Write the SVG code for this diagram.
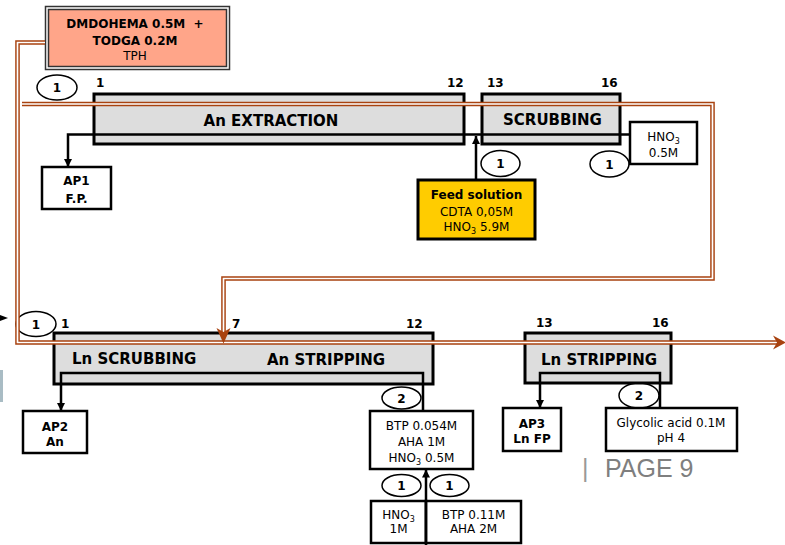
<svg xmlns="http://www.w3.org/2000/svg" xmlns:xlink="http://www.w3.org/1999/xlink" width="785" height="545" viewBox="0 0 785 545">
<style>
.box{fill:#fff;stroke:#000;stroke-width:2.5}
.main{fill:#dddddd;stroke:#000;stroke-width:3}
.t{font-family:"DejaVu Sans",Verdana,sans-serif;font-size:12px;text-anchor:middle;fill:#000}
.b{font-weight:bold}
.ttl{font-family:"DejaVu Sans",Verdana,sans-serif;font-size:15px;font-weight:bold;fill:#000}
.st{font-family:"DejaVu Sans",Verdana,sans-serif;font-size:12px;font-weight:bold;fill:#000}
.ell{fill:none;stroke:#000;stroke-width:1.5}
.brown{fill:none;stroke:#A8420F;stroke-width:4.6}
.brownin{fill:none;stroke:#fff;stroke-width:1.7}
.aq{fill:none;stroke:#000;stroke-width:2.5}
.arr{fill:#A8420F}
</style>
<defs>
<marker id="ah" markerUnits="userSpaceOnUse" markerWidth="8" markerHeight="8" refX="8" refY="4" orient="auto">
<path d="M0,0 L8,4 L0,8 z" fill="#000"/>
</marker>
<path id="orgA" d="M45,42.5 H17.5 V342.5 H778"/>
<path id="orgB" d="M22,104 H712.5 V278.5 H223.5 V333"/>
</defs>

<rect x="0" y="370" width="3" height="32" fill="#a9bcc4"/>
<path d="M0,315 L8,318 L0,321 z" fill="#000"/>

<g id="solvent">
<rect x="45.5" y="6.5" width="184" height="63" fill="#fff" stroke="#333" stroke-width="1.5"/>
<rect x="48.5" y="9.5" width="178" height="57" fill="#FFA589" stroke="#333" stroke-width="1.5"/>
<text class="t b" x="135" y="28" style="white-space:pre">DMDOHEMA 0.5M  +</text>
<text class="t b" x="135" y="45">TODGA 0.2M</text>
<text class="t" x="135" y="60">TPH</text>
</g>

<g id="an-extraction">
<rect class="main" x="94" y="94" width="370" height="50"/>
<text class="ttl" x="271" y="125.5" text-anchor="middle">An EXTRACTION</text>
<text class="st" x="96" y="87">1</text>
<text class="st" x="447" y="87">12</text>
</g>

<g id="scrubbing">
<rect class="main" x="482" y="94" width="138" height="50"/>
<text class="ttl" x="552.5" y="125" text-anchor="middle">SCRUBBING</text>
<text class="st" x="487" y="87">13</text>
<text class="st" x="601" y="87">16</text>
</g>

<g id="ap1">
<rect class="box" x="42" y="167" width="69" height="42" stroke-width="2"/>
<text class="t b" x="76.5" y="185">AP1</text>
<text class="t b" x="76.5" y="202.5">F.P.</text>
</g>

<g id="feed">
<rect x="418" y="180" width="117" height="59" fill="#FFCC00" stroke="#000" stroke-width="3"/>
<text class="t b" x="476.5" y="199">Feed solution</text>
<text class="t" x="476.5" y="215.5">CDTA 0,05M</text>
<text class="t" x="476.5" y="231">HNO<tspan font-size="8" dy="3">3</tspan><tspan dy="-3"> 5.9M</tspan></text>
</g>

<g id="hno3-scrub">
<rect class="box" x="630" y="122" width="67" height="42" stroke-width="2"/>
<text class="t" x="663.5" y="140.5">HNO<tspan font-size="8" dy="3">3</tspan></text>
<text class="t" x="663.5" y="157">0.5M</text>
</g>

<g id="ln-scrub-an-strip">
<rect class="main" x="54" y="333" width="379" height="51"/>
<text class="ttl" x="72" y="364">Ln SCRUBBING</text>
<text class="ttl" x="267" y="365">An STRIPPING</text>
<text class="st" x="61" y="327.5">1</text>
<text class="st" x="232" y="327.5">7</text>
<text class="st" x="406" y="327.5">12</text>
</g>

<g id="ln-stripping">
<rect class="main" x="525" y="333" width="146" height="50"/>
<text class="ttl" x="599" y="365" text-anchor="middle">Ln STRIPPING</text>
<text class="st" x="536" y="327">13</text>
<text class="st" x="652" y="327">16</text>
</g>

<g id="ap2">
<rect class="box" x="23" y="411" width="64" height="42" stroke-width="2"/>
<text class="t b" x="55" y="430.5">AP2</text>
<text class="t b" x="55" y="445.5">An</text>
</g>

<g id="ap3">
<rect class="box" x="503" y="408" width="58" height="43" stroke-width="2"/>
<text class="t b" x="532" y="427.5">AP3</text>
<text class="t b" x="532" y="442.5">Ln FP</text>
</g>

<g id="glycolic">
<rect class="box" x="606" y="408" width="131" height="43" stroke-width="2"/>
<text class="t" x="671" y="427">Glycolic acid 0.1M</text>
<text class="t" x="671" y="442">pH 4</text>
</g>

<g id="btp-strip">
<rect class="box" x="370" y="411" width="103" height="58"/>
<text class="t" x="421.5" y="430">BTP 0.054M</text>
<text class="t" x="421.5" y="446">AHA 1M</text>
<text class="t" x="421.5" y="461.5">HNO<tspan font-size="8" dy="3">3</tspan><tspan dy="-3"> 0.5M</tspan></text>
</g>

<g id="hno3-1m">
<rect class="box" x="371" y="501" width="55" height="42"/>
<text class="t" x="398.5" y="519">HNO<tspan font-size="8" dy="3">3</tspan></text>
<text class="t" x="398.5" y="533">1M</text>
</g>

<g id="btp-011">
<rect class="box" x="426" y="501" width="95" height="42"/>
<text class="t" x="473.5" y="519">BTP 0.11M</text>
<text class="t" x="473.5" y="533">AHA 2M</text>
</g>

<g id="ellipses">
<ellipse class="ell" cx="57" cy="87.5" rx="20" ry="12.5"/>
<text class="t b" x="57" y="92">1</text>
<ellipse class="ell" cx="500.5" cy="163.5" rx="19.5" ry="13"/>
<text class="t b" x="500.5" y="168">1</text>
<ellipse class="ell" cx="609.5" cy="164" rx="19.5" ry="13"/>
<text class="t b" x="609.5" y="168.5">1</text>
<ellipse class="ell" cx="36" cy="324" rx="20" ry="12.5"/>
<text class="t b" x="36" y="328.5">1</text>
<ellipse class="ell" cx="401.5" cy="398" rx="19.5" ry="11"/>
<text class="t b" x="401.5" y="402.5">2</text>
<ellipse class="ell" cx="639" cy="395.5" rx="20" ry="12.5"/>
<text class="t b" x="639" y="400">2</text>
<ellipse class="ell" cx="401.5" cy="485.5" rx="19.5" ry="11"/>
<text class="t b" x="401.5" y="490">1</text>
<ellipse class="ell" cx="449.5" cy="485.5" rx="19.5" ry="11"/>
<text class="t b" x="449.5" y="490">1</text>
</g>

<g id="connectors">
<path class="aq" d="M630,134.5 H68 V167" marker-end="url(#ah)"/>
<path class="aq" d="M476,180 V136" marker-end="url(#ah)"/>
<path class="aq" d="M423,411 V373 H61 V411" marker-end="url(#ah)"/>
<path class="aq" d="M660,408 V373 H540 V408" marker-end="url(#ah)"/>
<path class="aq" d="M426,545 V469.5" marker-end="url(#ah)"/>
<use xlink:href="#orgA" class="brown"/>
<use xlink:href="#orgA" class="brownin"/>
<use xlink:href="#orgB" class="brown"/>
<use xlink:href="#orgB" class="brownin"/>
<polygon class="arr" points="773,335.5 786,342.5 773,349.5 777,342.5"/>
<polygon class="arr" points="216.5,328 223.5,343.5 230.5,328 223.5,332"/>
</g>

<g id="page">
<text x="582" y="477" font-family="'Liberation Sans',Arial,sans-serif" font-size="25" fill="#999">|</text>
<text x="605" y="477" font-family="'Liberation Sans',Arial,sans-serif" font-size="25" fill="#7f7f7f">PAGE 9</text>
</g>
</svg>
